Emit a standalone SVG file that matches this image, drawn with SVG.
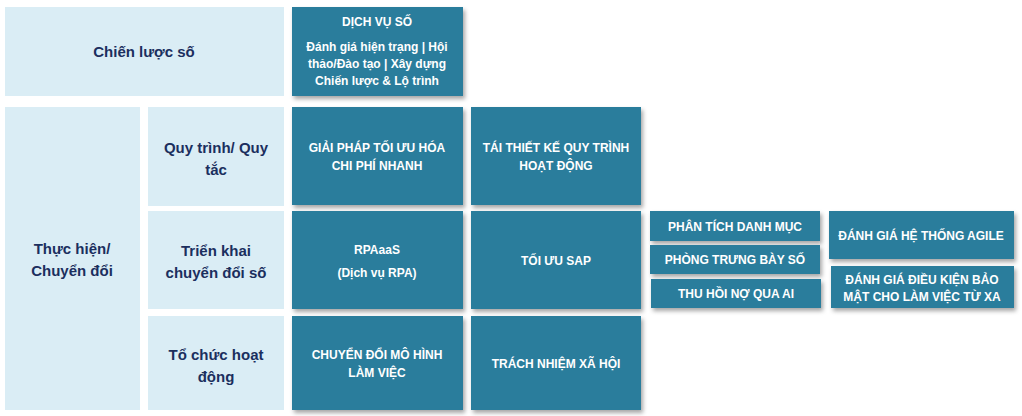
<svg xmlns="http://www.w3.org/2000/svg" width="1022" height="416" viewBox="0 0 1022 416">
<defs>
<filter id="sh" x="-10%" y="-10%" width="130%" height="140%"><feDropShadow dx="2" dy="3" stdDeviation="2" flood-color="#000" flood-opacity="0.35"/></filter>
<style>
.l{fill:#daedf5}
.d{fill:#2b7d9c;filter:url(#sh)}
.lt{font-family:"Liberation Sans",Arial,sans-serif;font-weight:bold;font-size:15px;fill:#1b2f5e;text-anchor:middle}
.dt{font-family:"Liberation Sans",Arial,sans-serif;font-weight:bold;font-size:12px;fill:#fff;text-anchor:middle}
</style>
</defs>
<rect width="1022" height="416" fill="#fff"/>
<g id="chien-luoc"><rect class="l" x="5" y="7" width="279" height="89"/><text class="lt" x="144" y="57">Chiến lược số</text></g>
<g id="dich-vu-so"><rect class="d" x="292" y="7" width="171" height="89"/>
<text class="dt" x="377" y="26">DỊCH VỤ SỐ</text>
<text class="dt" x="377" y="51">Đánh giá hiện trạng | Hội</text>
<text class="dt" x="377" y="68">thảo/Đào tạo | Xây dựng</text>
<text class="dt" x="377" y="85">Chiến lược &amp; Lộ trình</text></g>
<g id="thuc-hien"><rect class="l" x="5" y="107" width="135" height="303"/><text class="lt" x="72" y="254">Thực hiện/</text><text class="lt" x="72" y="276">Chuyển đổi</text></g>
<g id="quy-trinh"><rect class="l" x="148" y="107" width="136" height="99"/><text class="lt" x="216" y="153">Quy trình/ Quy</text><text class="lt" x="216" y="175">tắc</text></g>
<g id="trien-khai"><rect class="l" x="148" y="211" width="136" height="98"/><text class="lt" x="216" y="256">Triển khai</text><text class="lt" x="216" y="278">chuyển đổi số</text></g>
<g id="to-chuc"><rect class="l" x="148" y="316" width="136" height="94"/><text class="lt" x="216" y="360">Tổ chức hoạt</text><text class="lt" x="216" y="382">động</text></g>
<g id="giai-phap"><rect class="d" x="292" y="107" width="171" height="98"/><text class="dt" x="377" y="152">GIẢI PHÁP TỐI ƯU HÓA</text><text class="dt" x="377" y="170">CHI PHÍ NHANH</text></g>
<g id="tai-thiet-ke"><rect class="d" x="471" y="107" width="170" height="98"/><text class="dt" x="556" y="152">TÁI THIẾT KẾ QUY TRÌNH</text><text class="dt" x="556" y="170">HOẠT ĐỘNG</text></g>
<g id="rpaaas"><rect class="d" x="292" y="211" width="171" height="98"/><text class="dt" x="377" y="254">RPAaaS</text><text class="dt" x="377" y="277">(Dịch vụ RPA)</text></g>
<g id="toi-uu-sap"><rect class="d" x="471" y="211" width="170" height="98"/><text class="dt" x="556" y="265">TỐI ƯU SAP</text></g>
<g id="chuyen-doi-mo-hinh"><rect class="d" x="292" y="316" width="171" height="94"/><text class="dt" x="377" y="359">CHUYỂN ĐỔI MÔ HÌNH</text><text class="dt" x="377" y="377">LÀM VIỆC</text></g>
<g id="trach-nhiem"><rect class="d" x="471" y="316" width="170" height="94"/><text class="dt" x="556" y="368">TRÁCH NHIỆM XÃ HỘI</text></g>
<g id="phan-tich"><rect class="d" x="650" y="211" width="170" height="30"/><text class="dt" x="735" y="231">PHÂN TÍCH DANH MỤC</text></g>
<g id="phong-trung-bay"><rect class="d" x="650" y="245" width="170" height="29"/><text class="dt" x="735" y="264">PHÒNG TRƯNG BÀY SỐ</text></g>
<g id="thu-hoi-no"><rect class="d" x="651" y="279" width="170" height="29"/><text class="dt" x="736" y="298">THU HỒI NỢ QUA AI</text></g>
<g id="agile"><rect class="d" x="829" y="211" width="185" height="48"/><text class="dt" x="921" y="240">ĐÁNH GIÁ HỆ THỐNG AGILE</text></g>
<g id="bao-mat"><rect class="d" x="831" y="266" width="183" height="42"/><text class="dt" x="922" y="284">ĐÁNH GIÁ ĐIỀU KIỆN BẢO</text><text class="dt" x="922" y="301">MẬT CHO LÀM VIỆC TỪ XA</text></g>
<g id="connectors"/>
</svg>
